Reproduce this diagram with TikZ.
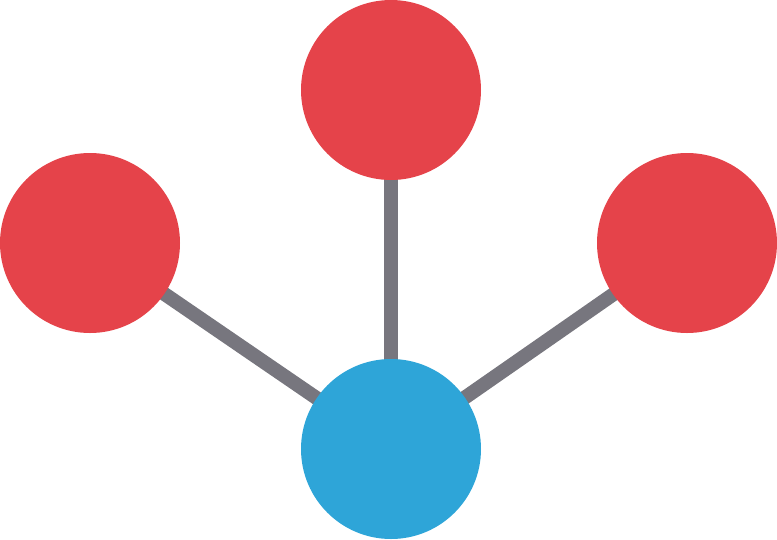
\documentclass[tikz,border=0pt]{standalone}
\usepackage{tikz}
\usetikzlibrary{backgrounds}
\definecolor{atomred}{HTML}{E5434A}
\definecolor{atomblue}{HTML}{2EA5D8}
\definecolor{bondgray}{HTML}{77767E}

\begin{document}
\begin{tikzpicture}[x=1pt,y=-1pt,
  redball/.style={circle,fill=atomred,minimum size=180pt,inner sep=0pt},
  blueball/.style={circle,fill=atomblue,minimum size=180pt,inner sep=0pt},
  bond/.style={draw=bondgray,line width=14pt}]
  \useasboundingbox (0,0) rectangle (777,539);
  \node[redball](top) at (391,90) {};
  \node[redball](left) at (90,243) {};
  \node[redball](right) at (687,243) {};
  \node[blueball](hub) at (391,449) {};
  \begin{scope}[on background layer]
    \draw[bond] (hub.center) -- (top.center);
    \draw[bond] (hub.center) -- (left.center);
    \draw[bond] (hub.center) -- (right.center);
  \end{scope}
\end{tikzpicture}
\end{document}
